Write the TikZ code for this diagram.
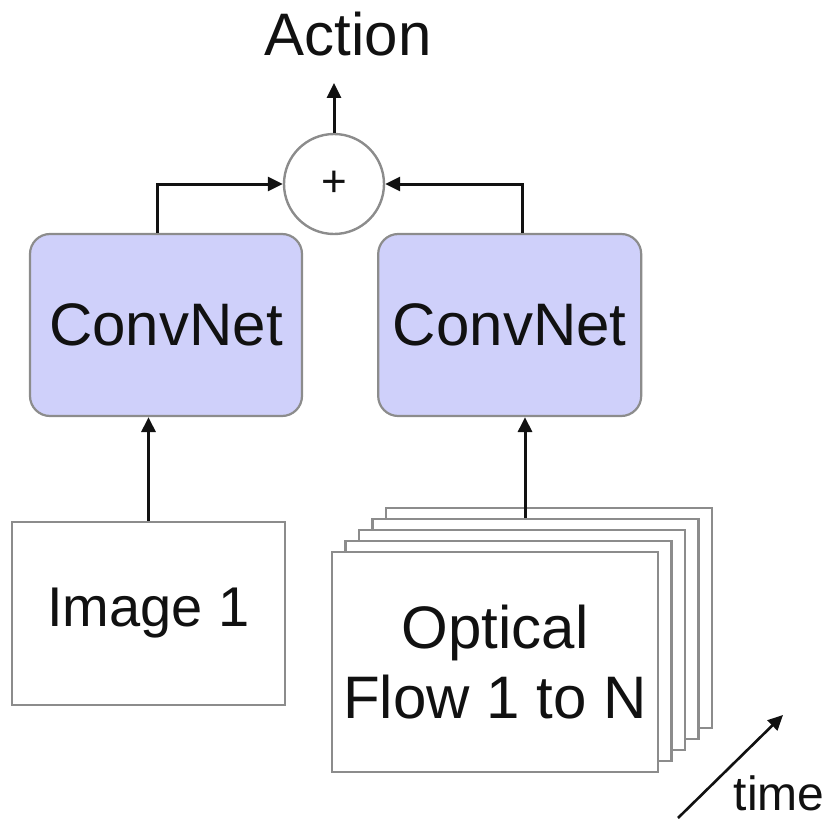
\documentclass[tikz,border=0pt]{standalone}
\usepackage{fontspec}
\setmainfont{Liberation Sans}
\usetikzlibrary{arrows.meta,positioning}
\definecolor{NetLavender}{HTML}{CFD0FA}
\definecolor{EdgeGray}{HTML}{8C8C8C}
\definecolor{InkBlack}{HTML}{111111}
\tikzset{
  convbox/.style={draw=EdgeGray,line width=1.1pt,rounded corners=10pt,fill=NetLavender,align=center,minimum width=134pt,minimum height=91pt,text=InkBlack,bigtext},
  framebox/.style={draw=EdgeGray,line width=1.4pt,fill=white,align=center,minimum width=163pt,minimum height=110pt,text=InkBlack},
  sumnode/.style={circle,draw=EdgeGray,line width=1.2pt,fill=white,minimum size=50pt,inner sep=0pt,text=InkBlack},
  flow/.style={-{Triangle[length=7.5pt,width=7pt]},line width=1.5pt,draw=InkBlack},
  bigtext/.style={font=\fontsize{30}{35}\selectfont}
}
\begin{document}
\begin{tikzpicture}[x=0.5pt,y=-0.5pt]
  \useasboundingbox (0,0) rectangle (825,819);
  \node[convbox,minimum width=136pt] (convL) at (166,325) {ConvNet};
  \node[convbox,minimum width=131.5pt,right=37pt of convL] (convR) {ConvNet};
  \node[framebox,minimum width=136.5pt,minimum height=91.5pt,font=\fontsize{28}{33}\selectfont] (img) at (148.5,613.5) {Image 1};
  \foreach \k in {4,3,2,1}
    \node[framebox] (frame\k) at ({495+13.5*\k},{662-11*\k}) {};
  \node[framebox,bigtext] (frame0) at (495,662) {Optical\\Flow 1 to N};
  \node[sumnode,font=\fontsize{22}{22}\selectfont] (plus) at (334,184) {\raisebox{-3pt}{+}};
  \node[bigtext,anchor=base,inner sep=13.5pt,text=InkBlack] (action) at (348,55) {Action};
  \draw[flow] (img) -- (img |- convL.south);
  \draw[flow] ([xshift=-5.25pt]frame3.north) -- ([xshift=-5.25pt]frame3.north |- convR.south);
  \draw[flow] ([xshift=-4.5pt]convL.north) |- (plus.west);
  \draw[flow] ([xshift=6.25pt]convR.north) |- (plus.east);
  \draw[flow] (plus) -- (plus |- action.south);
  % time axis
  \coordinate (tstart) at (678,818);
  \coordinate (tend) at (783,715);
  \draw[flow,line width=1.3pt] (tstart) -- (tend);
  \node[anchor=base,font=\fontsize{24}{28}\selectfont,text=InkBlack] (time) at (779,810) {time};
\end{tikzpicture}
\end{document}
